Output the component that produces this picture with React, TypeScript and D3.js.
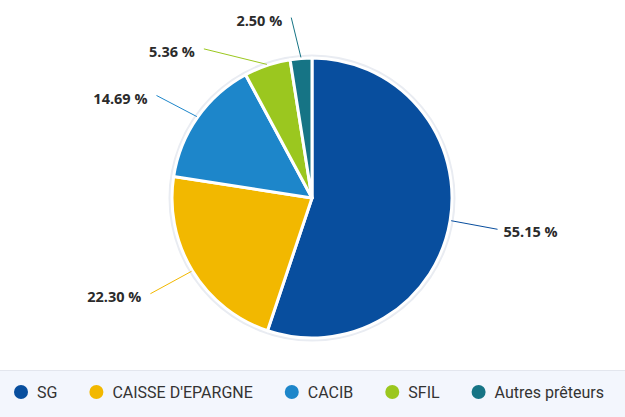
import * as d3 from "d3";
import { useRef, useEffect } from "react";

// chart data
const categories = ["SG", "CAISSE D'EPARGNE", "CACIB", "SFIL", "Autres prêteurs"];
const shares = [55.15, 22.3, 14.69, 5.36, 2.5];
const colors = ["#084e9e", "#f2b800", "#1d86ca", "#9bc71f", "#167485"];

const width = 625;
const height = 417;

const PieChart = () => {
  const containerRef = useRef<HTMLDivElement | null>(null);

  useEffect(() => {
    d3.select(containerRef.current).selectAll("svg").remove();

    const cx = 312;
    const cy = 198;
    const radius = 140;
    const labelRadius = 188;
    // nudges applied to label anchor (like highcharts' overlap handling)
    const labelShift: [number, number][] = [[0, 1], [-1, -2], [-2, 6], [-48, 29], [-6, 7]];

    const svg = d3.create("svg")
      .attr("width", width)
      .attr("height", height)
      .attr("viewBox", [0, 0, width, height])
      .style("display", "block");

    svg.append("rect")
      .attr("width", width)
      .attr("height", height)
      .attr("fill", "#fff");

    const data = categories.map((name, i) => ({ name, value: shares[i], color: colors[i] }));

    const pie = d3.pie<any>().sort(null).value((d: any) => d.value);
    const arcs = pie(data);
    const arc = d3.arc<any>().innerRadius(0).outerRadius(radius);

    const g = svg.append("g").attr("transform", `translate(${cx},${cy})`);

    // faint halo round the pie
    g.append("circle")
      .attr("r", radius + 2)
      .attr("fill", "none")
      .attr("stroke", "#e9ecf2")
      .attr("stroke-width", 3);

    g.selectAll("path.slice")
      .data(arcs)
      .join("path")
      .attr("class", "slice")
      .attr("d", arc)
      .attr("fill", (d: any) => d.data.color)
      .attr("stroke", "#fff")
      .attr("stroke-width", 3)
      .attr("stroke-linejoin", "round");

    // data labels with connectors
    arcs.forEach((d: any, i: number) => {
      const mid = (d.startAngle + d.endAngle) / 2;
      const sx = Math.sin(mid);
      const sy = -Math.cos(mid);
      const x0 = sx * (radius + 1);
      const y0 = sy * (radius + 1);
      const x1 = sx * labelRadius + labelShift[i][0];
      const y1 = sy * labelRadius + labelShift[i][1];
      const right = sx > 0;

      g.append("line")
        .attr("x1", x0)
        .attr("y1", y0)
        .attr("x2", x1)
        .attr("y2", y1)
        .attr("stroke", d.data.color)
        .attr("stroke-width", 1);

      g.append("text")
        .attr("x", right ? x1 + 6 : x1 - 9)
        .attr("y", y1 + 3)
        .attr("dy", "0.35em")
        .attr("text-anchor", right ? "start" : "end")
        .attr("font-family", "'Open Sans', sans-serif")
        .attr("font-weight", "bold")
        .attr("font-size", 14.5)
        .attr("fill", "#2b2b2b")
        .text(d3.format(".2f")(d.data.value) + " %");
    });

    // legend band
    const legendTop = 370;
    svg.append("rect")
      .attr("x", 0)
      .attr("y", legendTop)
      .attr("width", width)
      .attr("height", height - legendTop)
      .attr("fill", "#f3f6fd");
    svg.append("line")
      .attr("x1", 0)
      .attr("x2", width)
      .attr("y1", legendTop + 0.5)
      .attr("y2", legendTop + 0.5)
      .attr("stroke", "#e3e6ee");

    const legend = svg.append("g");
    const ly = 392;
    const items = legend.selectAll("g.item")
      .data(data)
      .join("g")
      .attr("class", "item");
    items.append("circle")
      .attr("cy", ly)
      .attr("r", 7)
      .attr("fill", (d) => d.color);
    items.append("text")
      .attr("y", ly)
      .attr("dy", "0.35em")
      .attr("font-family", "Roboto, sans-serif")
      .attr("font-size", 16)
      .attr("fill", "#333")
      .text((d) => d.name);

    const node: SVGSVGElement | null = svg.node();
    if (containerRef.current && node) {
      containerRef.current.appendChild(node);
      // lay legend items out after measuring text
      let x = 21;
      items.each(function () {
        const item = d3.select(this);
        item.select("circle").attr("cx", x);
        const text = item.select("text").attr("x", x + 16);
        const w = (text.node() as SVGTextElement).getComputedTextLength();
        x = x + 16 + w + 39;
      });
    }
  }, []);

  return <div ref={containerRef}></div>;
};

export default function App() {
  return (
    <div style={{ position: "fixed", left: 0, top: 0, width, height, overflow: "hidden" }}>
      <PieChart />
    </div>
  );
}
